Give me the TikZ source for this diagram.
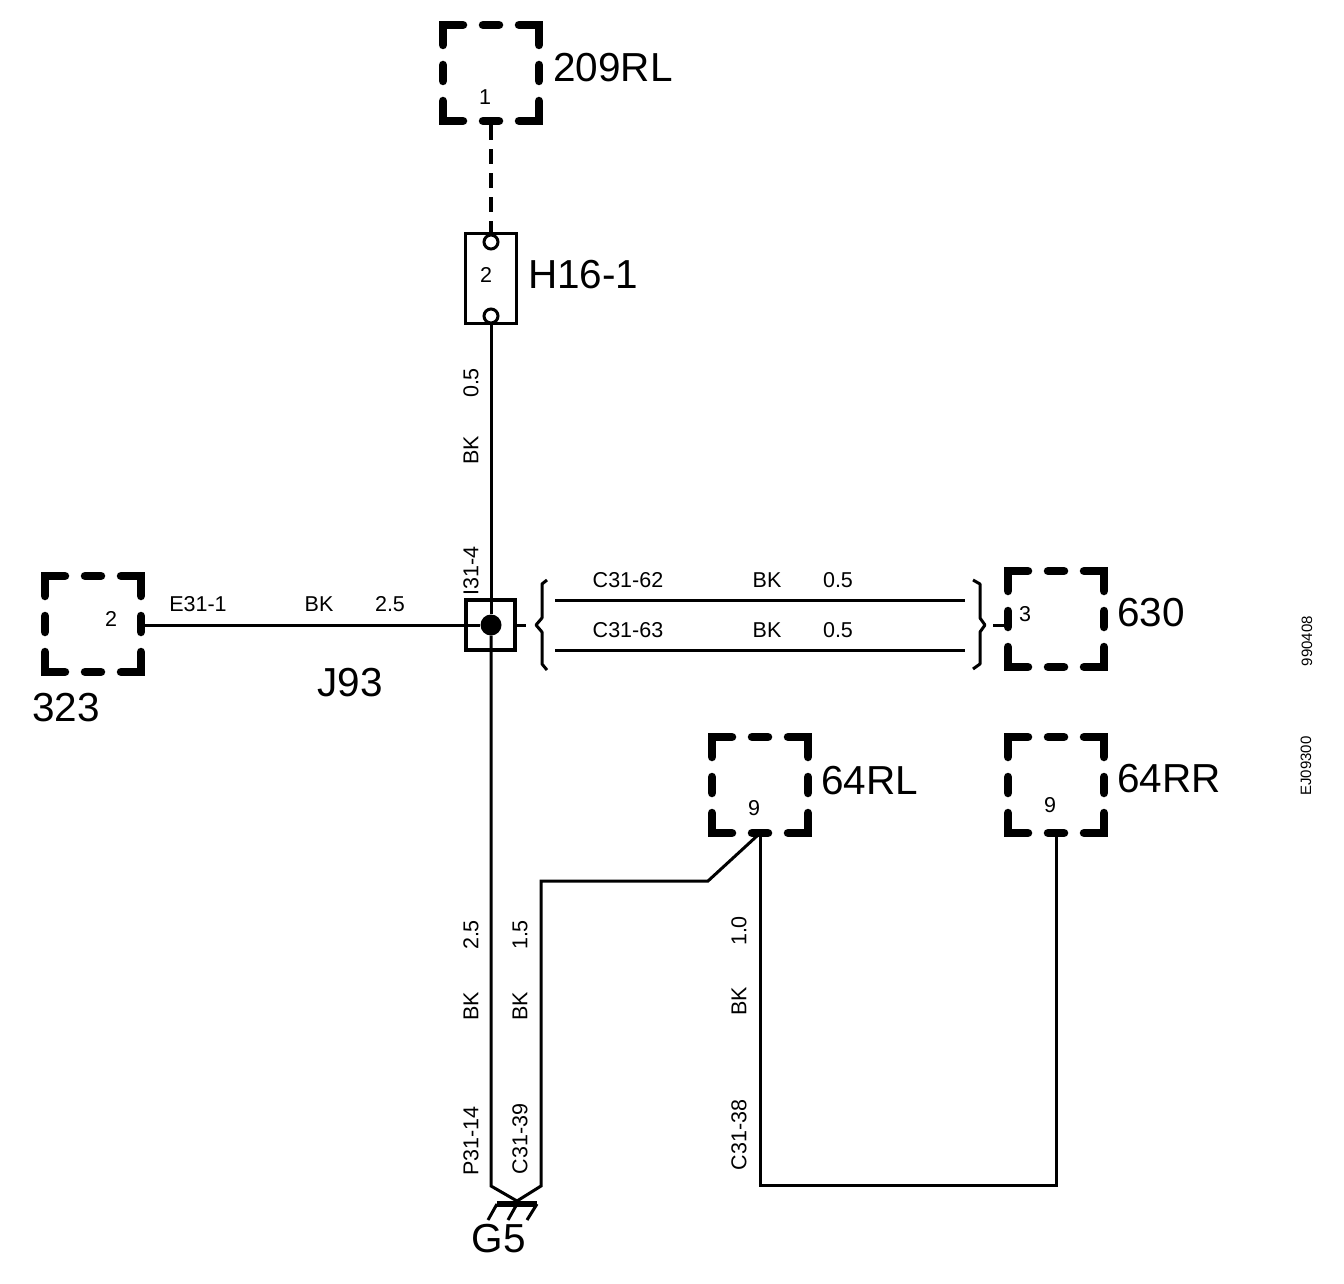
\documentclass[tikz,border=0pt]{standalone}
\usepackage{fontspec}
\setmainfont{Liberation Sans}
\newcommand{\bigfs}{\fontsize{40.5}{44}\selectfont}
\newcommand{\smfs}{\fontsize{21.5}{24}\selectfont}
\newcommand{\tinyfs}{\fontsize{15}{18}\selectfont}
\tikzset{
  wire/.style={draw=black,line width=3pt},
  heavy/.style={draw=black,line width=8.5pt,line cap=round,line join=miter},
  boxanchor/.style={inner sep=0pt,minimum width=96pt,minimum height=96pt},
  biglabel/.style={font=\bigfs,inner sep=0pt},
  smlabel/.style={font=\smfs,inner sep=0pt},
  wirelabel/.style={font=\smfs,inner sep=0pt,rotate=90},
  codelabel/.style={font=\tinyfs,inner sep=0pt,rotate=90},
  compbox/.style={draw=black,line width=3pt,fill=white,inner sep=0pt},
  term/.style={circle,draw=black,line width=3pt,fill=white,minimum size=14pt,inner sep=0pt},
  junction/.style={circle,fill=black,minimum size=21pt,inner sep=0pt}
}
\newcommand{\dashedbox}[3]{%
  \node[boxanchor] (#1) at (#2,#3) {};
  \begin{scope}[shift={(#2,#3)}]
    \draw[heavy] (-48,-28) -- (-48,-48) -- (-28,-48);
    \draw[heavy] (-8,-48) -- (8,-48);
    \draw[heavy] (28,-48) -- (48,-48) -- (48,-28);
    \draw[heavy] (48,-8) -- (48,8);
    \draw[heavy] (48,28) -- (48,48) -- (28,48);
    \draw[heavy] (8,48) -- (-8,48);
    \draw[heavy] (-28,48) -- (-48,48) -- (-48,28);
    \draw[heavy] (-48,8) -- (-48,-8);
  \end{scope}}
\begin{document}
\begin{tikzpicture}[x=1pt,y=-1pt]
\useasboundingbox (0,0) rectangle (1344,1284);
% dashed component boxes
\dashedbox{rl209}{491}{73}
\dashedbox{b323}{93}{624}
\dashedbox{b630}{1056}{619}
\dashedbox{rl64}{760}{785}
\dashedbox{rr64}{1056}{785}
% fuse
\node[compbox,minimum width=51pt,minimum height=89pt] (fuse) at (490.5,278.5) {};
\node[term] (ftop) at (491,242) {};
\node[term] (fbot) at (491,316) {};
% splice
\node[compbox,line width=3.6pt,minimum width=49pt,minimum height=50pt] (splice) at (490.5,625) {};
\node[junction] (dot) at (491,625) {};
% named ends
\coordinate (gndL) at (491,1186);
\coordinate (gndR) at (541,1186);
\coordinate (gndM) at (517,1201);
\coordinate (b1) at (541,881);
\coordinate (b2) at (708,881);
\coordinate (c1) at (760,1185);
\coordinate (c2) at (1056,1185);
\coordinate (barL) at (497,1204);
\coordinate (barM) at (517,1204);
\coordinate (barR) at (537,1204);
\coordinate (tickL) at (488,1220);
\coordinate (tickM) at (508,1220);
\coordinate (tickR) at (527,1220);
% connectors
\draw[draw=black,line width=3.4pt,dash pattern=on 15pt off 9pt] (rl209.south) ++(0,4) -- (ftop.north);
\draw[wire] (fbot.south) -- (dot.north);
\draw[wire] (dot.south) -- (gndL) -- (gndM) -- (gndR) -- (b1) -- (b2) -- (rl64.south);
\draw[wire] (rl64.south) -- (c1) -- (c2) -- (rr64.south);
\draw[wire] (b323.east) ++(0,1) -- (dot.west);
\draw[line width=6pt] (barL) -- (barR);
\draw[wire] (barL) -- (tickL);
\draw[wire] (barM) -- (tickM);
\draw[wire] (barR) -- (tickR);
% stubs, parallel wires, braces
\coordinate (stubL) at (526,625);
\coordinate (stubR) at (993,625);
\draw[wire] (splice.east) -- (stubL);
\draw[wire] (stubR) -- (b630.west |- stubR);
\coordinate (w1a) at (555,600); \coordinate (w1b) at (965,600);
\coordinate (w2a) at (555,650); \coordinate (w2b) at (965,650);
\draw[wire] (w1a) -- (w1b);
\draw[wire] (w2a) -- (w2b);
\draw[wire,line join=round] (547,580) -- (542,584) -- (542,618) -- (536,625) -- (542,632) -- (542,664) -- (547,670);
\draw[wire,line join=round] (973,580) -- (980,584) -- (980,618) -- (985,625) -- (980,632) -- (980,664) -- (973,669);
% big labels
\node[biglabel,anchor=west] at (553,68) {209RL};
\node[biglabel,anchor=west] at (528,275) {H16-1};
\node[biglabel,anchor=west] at (1117,613) {630};
\node[biglabel,anchor=west] at (821,781) {64RL};
\node[biglabel,anchor=west] at (1117,779) {64RR};
\node[biglabel] at (66,708) {323};
\node[biglabel] at (350,683) {J93};
\node[biglabel] at (499,1239) {G5};
% pin numbers
\node[smlabel] at (485,97) {1};
\node[smlabel] at (486,275) {2};
\node[smlabel] at (111,619) {2};
\node[smlabel] at (1025,614) {3};
\node[smlabel] at (754,808) {9};
\node[smlabel] at (1050,805) {9};
% horizontal wire labels
\node[smlabel] at (198,604) {E31-1};
\node[smlabel] at (319,604) {BK};
\node[smlabel] at (390,604) {2.5};
\node[smlabel] at (628,580) {C31-62};
\node[smlabel] at (767,580) {BK};
\node[smlabel] at (838,580) {0.5};
\node[smlabel] at (628,630) {C31-63};
\node[smlabel] at (767,630) {BK};
\node[smlabel] at (838,630) {0.5};
% vertical wire labels
\node[wirelabel] at (471,383) {0.5};
\node[wirelabel] at (471,450) {BK};
\node[wirelabel] at (471,571) {I31-4};
\node[wirelabel] at (471,935) {2.5};
\node[wirelabel] at (471,1006) {BK};
\node[wirelabel] at (471,1141) {P31-14};
\node[wirelabel] at (520,935) {1.5};
\node[wirelabel] at (520,1006) {BK};
\node[wirelabel] at (520,1139) {C31-39};
\node[wirelabel] at (739,931) {1.0};
\node[wirelabel] at (739,1001) {BK};
\node[wirelabel] at (739,1135) {C31-38};
% margin codes
\node[codelabel] at (1307,641) {990408};
\node[codelabel] at (1306,766) {EJ09300};
\end{tikzpicture}
\end{document}
